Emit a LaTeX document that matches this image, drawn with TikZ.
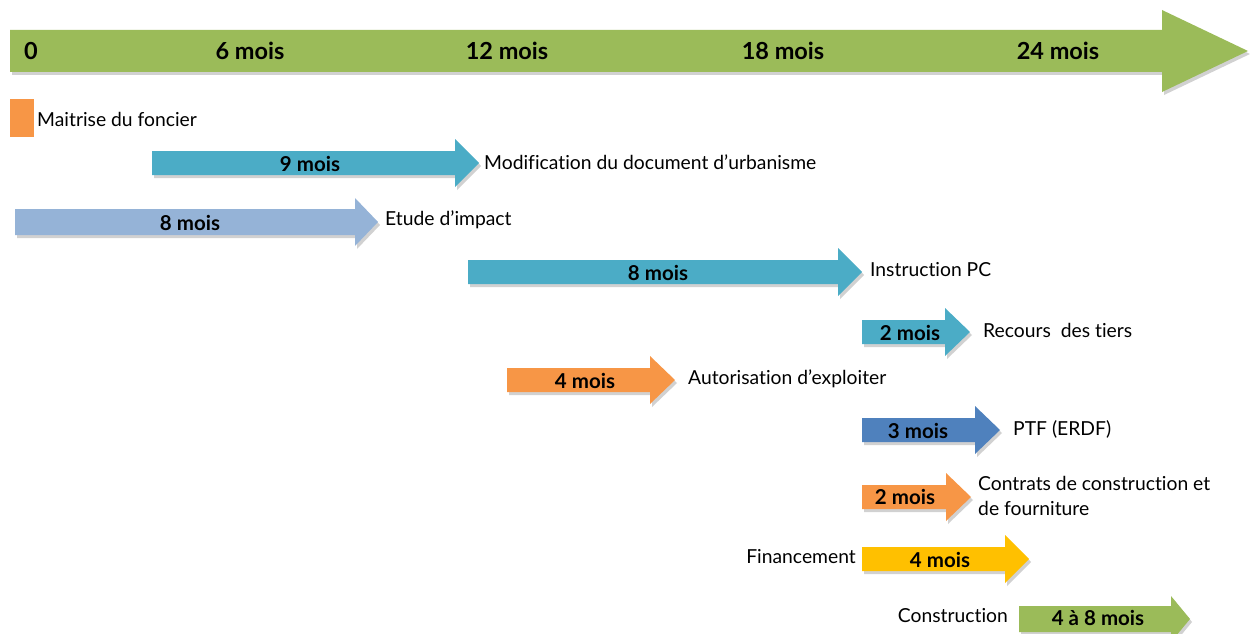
\documentclass[tikz,border=0pt]{standalone}
\usepackage{fontspec}
\setmainfont{Lato}[Ligatures=NoCommon]
\definecolor{cgreen}{HTML}{9BBB59}
\definecolor{cteal}{HTML}{4BACC6}
\definecolor{clblue}{HTML}{95B3D7}
\definecolor{corange}{HTML}{F79646}
\definecolor{cblue}{HTML}{4F81BD}
\definecolor{cyellow}{HTML}{FFC000}
% #1 colour, #2 x start, #3 x head base, #4 x tip, #5 y centre, #6 half body, #7 half head
\newcommand\ganttarrow[7]{%
  \fill[black,opacity=.18] ({#2+2},{#5-#6+3}) -- ({#3+2},{#5-#6+3}) -- ({#3+2},{#5-#7+3}) -- ({#4+2},{#5+3}) -- ({#3+2},{#5+#7+3}) -- ({#3+2},{#5+#6+3}) -- ({#2+2},{#5+#6+3}) -- cycle;
  \fill[#1] ({#2},{#5-#6}) -- ({#3},{#5-#6}) -- ({#3},{#5-#7}) -- ({#4},{#5}) -- ({#3},{#5+#7}) -- ({#3},{#5+#6}) -- ({#2},{#5+#6}) -- cycle;}
\tikzset{
  lbl/.style={font=\fontsize{20.5}{22}\selectfont\bfseries, text=black, inner sep=0pt},
  tick/.style={font=\fontsize{23.5}{26}\selectfont\bfseries, text=black, inner sep=0pt},
  txt/.style={font=\fontsize{19.3}{25}\selectfont, text=black, inner sep=0pt, anchor=west, align=left},
}
\begin{document}
\begin{tikzpicture}[x=1pt,y=-1pt]
\useasboundingbox (0,0) rectangle (1250,634);
% time axis
\ganttarrow{cgreen}{10}{1162}{1248}{51}{21}{41}
\node[tick] (t0) at (31,51) {0};
\node[tick] (t6) at (250,51) {6 mois};
\node[tick] (t12) at (507,51) {12 mois};
\node[tick] (t18) at (783,51) {18 mois};
\node[tick] (t24) at (1058,51) {24 mois};
% Maitrise du foncier
\fill[corange] (10,99) rectangle (34,137);
\node[txt] (foncier) at (37,119) {Maitrise du foncier};
% Modification
\ganttarrow{cteal}{152}{455}{479}{163}{12}{24}
\node[lbl] (a1) at (310,164) {9 mois};
\node[txt] (t1) at (484,162) {Modification du document d’urbanisme};
% Etude d'impact
\ganttarrow{clblue}{15}{355}{378}{222}{13}{24}
\node[lbl] (a2) at (190,223) {8 mois};
\node[txt] (t2) at (385,220) {Etude d’impact};
% Instruction PC
\ganttarrow{cteal}{468}{838}{862}{272}{12}{24}
\node[lbl] (a3) at (658,273) {8 mois};
\node[txt] (t3) at (870,270) {Instruction PC};
% Recours
\ganttarrow{cteal}{862}{945}{970}{332}{12}{24}
\node[lbl] (a4) at (910,333) {2 mois};
\node[txt] (t4) at (983,330) {Recours\ \ des tiers};
% Autorisation
\ganttarrow{corange}{507}{650}{675}{380}{12}{24}
\node[lbl] (a5) at (585,381) {4 mois};
\node[txt] (t5) at (688,379) {Autorisation d’exploiter};
% PTF
\ganttarrow{cblue}{862}{975}{1000}{430}{12}{24}
\node[lbl] (a6) at (918,431) {3 mois};
\node[txt] (t6x) at (1013,429) {PTF (ERDF)};
% Contrats
\ganttarrow{corange}{862}{946}{971}{497}{12}{24}
\node[lbl] (a7) at (905,497) {2 mois};
\node[txt] (t7) at (978,496) {Contrats de construction et\\de fourniture};
% Financement
\ganttarrow{cyellow}{862}{1005}{1029}{559}{12}{24}
\node[lbl] (a8) at (940,560) {4 mois};
\node[txt, anchor=east] (t8) at (856,557) {Financement};
% Construction
\ganttarrow{cgreen}{1019}{1171}{1190}{619}{13}{23}
\node[lbl] (a9) at (1098,618) {4 à 8 mois};
\node[txt, anchor=east] (t9) at (1008,616) {Construction};
\end{tikzpicture}
\end{document}
